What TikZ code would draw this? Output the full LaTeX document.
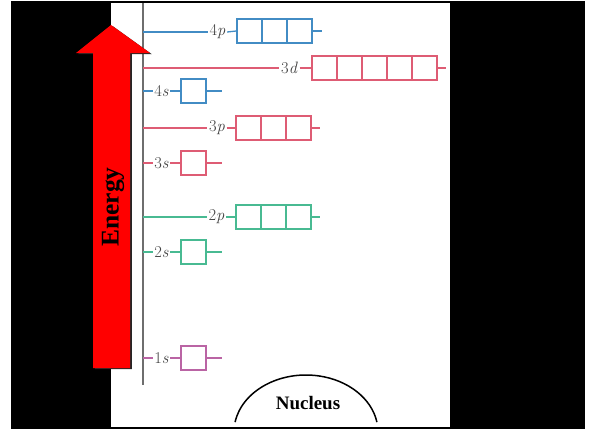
\documentclass[tikz,border=0pt]{standalone}
\usepackage{fontspec}
\newfontfamily\timesfont{Liberation Serif}
\usetikzlibrary{calc}
\definecolor{orbblue}{RGB}{66,140,196}
\definecolor{orbred}{RGB}{222,92,116}
\definecolor{orbgreen}{RGB}{72,186,146}
\definecolor{orbpurple}{RGB}{186,100,164}
\definecolor{labgray}{RGB}{65,65,65}
\definecolor{axisgray}{RGB}{110,110,110}
\definecolor{arrowred}{RGB}{255,0,0}
\tikzset{
  orb/.style={draw=#1, line width=1.3pt, minimum height=24pt, minimum width=25pt, inner sep=0pt},
  orblab/.style={text=labgray, inner sep=1.5pt, font=\fontsize{16.5}{18}\selectfont},
  lvl/.style={draw=#1, line width=1.3pt},
}
\newcommand\orbname[2]{#1\textit{#2}}
\begin{document}
\begin{tikzpicture}[x=1pt,y=-1pt]
\useasboundingbox (0,0) rectangle (589,429);
\fill[white] (0,0) rectangle (589,429);
\fill[black] (11,1) rectangle (585,429);
\fill[white] (111,3) rectangle (450,426.5);

% axis
\coordinate (axtop) at (143,3);
\coordinate (axbot) at (143,385);
\draw[axisgray, line width=1.3pt] (axtop) -- (axbot);

% energy arrow
\fill[black!85, shift={(1.8,1.2)}] (93,368) -- (93,53) -- (76,53) -- (111,25) -- (150,53) -- (130,53) -- (130,368) -- cycle;
\fill[arrowred] (93,368) -- (93,53) -- (76,53) -- (111,25) -- (150,53) -- (130,53) -- (130,368) -- cycle;
\node[rotate=90, font=\timesfont\bfseries\fontsize{25.5}{27}\selectfont] (energy) at (113,207) {Energy};

% 4p
\node[orblab] (l4p) at (217.5,32) {\orbname{4}{p}};
\node[orb=orbblue] (p4a) at (249.5,31) {};
\node[orb=orbblue] (p4b) at (274.5,31) {};
\node[orb=orbblue] (p4c) at (299.5,31) {};
\coordinate (e4p) at (322,31);
\draw[lvl=orbblue] (143,32) -- (l4p.west);
\draw[lvl=orbblue] (l4p.east) -- (p4a.west);
\draw[lvl=orbblue] (p4c.east) -- (e4p);

% 3d
\node[orblab] (l3d) at (289.5,68) {\orbname{3}{d}};
\node[orb=orbred] (d3a) at (324.5,68) {};
\node[orb=orbred] (d3b) at (349.5,68) {};
\node[orb=orbred] (d3c) at (374.5,68) {};
\node[orb=orbred] (d3d) at (399.5,68) {};
\node[orb=orbred] (d3e) at (424.5,68) {};
\coordinate (e3d) at (446,68);
\draw[lvl=orbred] (143,68) -- (l3d.west);
\draw[lvl=orbred] (l3d.east) -- (d3a.west);
\draw[lvl=orbred] (d3e.east) -- (e3d);

% 4s
\node[orblab] (l4s) at (161.5,91) {\orbname{4}{s}};
\node[orb=orbblue] (s4) at (193.5,91) {};
\coordinate (e4s) at (222,91);
\draw[lvl=orbblue] (143,91) -- (l4s.west);
\draw[lvl=orbblue] (l4s.east) -- (s4.west);
\draw[lvl=orbblue] (s4.east) -- (e4s);

% 3p
\node[orblab] (l3p) at (217,128) {\orbname{3}{p}};
\node[orb=orbred] (p3a) at (248.5,128) {};
\node[orb=orbred] (p3b) at (273.5,128) {};
\node[orb=orbred] (p3c) at (298.5,128) {};
\coordinate (e3p) at (320,128);
\draw[lvl=orbred] (143,128) -- (l3p.west);
\draw[lvl=orbred] (l3p.east) -- (p3a.west);
\draw[lvl=orbred] (p3c.east) -- (e3p);

% 3s
\node[orblab] (l3s) at (161.5,163) {\orbname{3}{s}};
\node[orb=orbred] (s3) at (193.5,163) {};
\coordinate (e3s) at (222,163);
\draw[lvl=orbred] (143,163) -- (l3s.west);
\draw[lvl=orbred] (l3s.east) -- (s3.west);
\draw[lvl=orbred] (s3.east) -- (e3s);

% 2p
\node[orblab] (l2p) at (216.5,217) {\orbname{2}{p}};
\node[orb=orbgreen] (p2a) at (248.5,217) {};
\node[orb=orbgreen] (p2b) at (273.5,217) {};
\node[orb=orbgreen] (p2c) at (298.5,217) {};
\coordinate (e2p) at (320,217);
\draw[lvl=orbgreen] (143,217) -- (l2p.west);
\draw[lvl=orbgreen] (l2p.east) -- (p2a.west);
\draw[lvl=orbgreen] (p2c.east) -- (e2p);

% 2s
\node[orblab] (l2s) at (161.5,252) {\orbname{2}{s}};
\node[orb=orbgreen] (s2) at (193.5,252) {};
\coordinate (e2s) at (222,252);
\draw[lvl=orbgreen] (143,252) -- (l2s.west);
\draw[lvl=orbgreen] (l2s.east) -- (s2.west);
\draw[lvl=orbgreen] (s2.east) -- (e2s);

% 1s
\node[orblab] (l1s) at (161.5,358) {\orbname{1}{s}};
\node[orb=orbpurple] (s1) at (193.5,358) {};
\coordinate (e1s) at (222,358);
\draw[lvl=orbpurple] (143,358) -- (l1s.west);
\draw[lvl=orbpurple] (l1s.east) -- (s1.west);
\draw[lvl=orbpurple] (s1.east) -- (e1s);

% nucleus
\draw[black, line width=1.5pt] (306,432) ++(190:72 and 57) arc[start angle=190, end angle=350, x radius=72, y radius=57];
\node[font=\timesfont\bfseries\fontsize{19}{21}\selectfont] (nuc) at (308,403) {Nucleus};
\end{tikzpicture}
\end{document}
